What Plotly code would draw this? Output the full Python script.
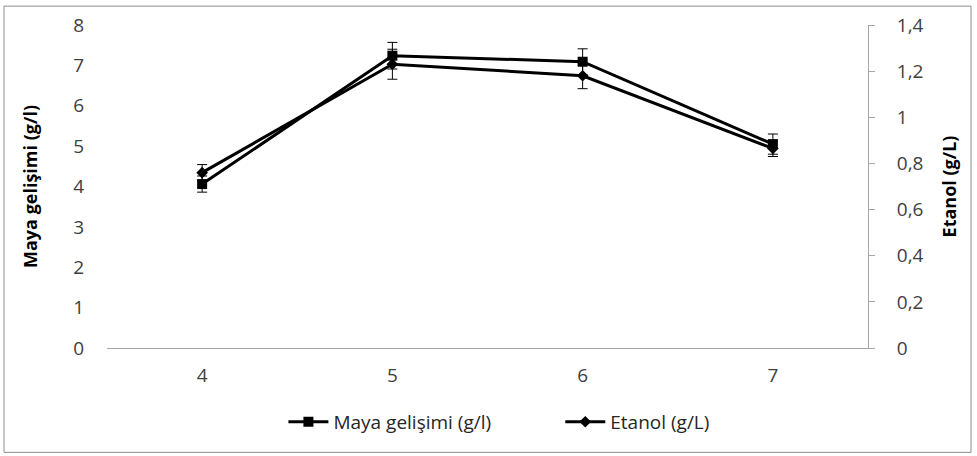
import plotly.graph_objects as go

# pH values on the category axis
ph = ["4", "5", "6", "7"]

# Yeast growth (g/l) with standard deviations
maya = [4.06, 7.24, 7.09, 5.05]
maya_err = [0.2, 0.33, 0.32, 0.25]

# Ethanol (g/L) with standard deviations
etanol = [0.76, 1.23, 1.18, 0.865]
etanol_err = [0.035, 0.065, 0.056, 0.035]

FONT = "Open Sans"
GREY = "#a6a6a6"

fig = go.Figure()

fig.add_trace(go.Scatter(
    x=ph, y=maya, name="Maya gelişimi (g/l)" + "\u00a0" * 13, mode="lines+markers",
    line=dict(color="black", width=3),
    marker=dict(symbol="square", size=10, color="black"),
    error_y=dict(type="data", array=maya_err, color="black", thickness=1, width=5),
    yaxis="y",
))

fig.add_trace(go.Scatter(
    x=ph, y=etanol, name="Etanol (g/L)", mode="lines+markers",
    line=dict(color="black", width=3),
    marker=dict(symbol="diamond", size=9, color="black"),
    error_y=dict(type="data", array=etanol_err, color="black", thickness=1, width=5),
    yaxis="y2",
))

fig.update_layout(
    width=977, height=456,
    margin=dict(l=107, r=109, t=23, b=108),
    paper_bgcolor="white", plot_bgcolor="white",
    separators=", ",
    font=dict(family=FONT, size=19, color="#404040"),
    showlegend=True,
    legend=dict(
        orientation="h", x=0.515, xanchor="center", y=-0.17, yanchor="top",
        font=dict(family=FONT, size=19, color="#262626"),
        itemwidth=40, tracegroupgap=0,
    ),
    xaxis=dict(
        type="category", range=[-0.5, 3.5],
        showline=True, linecolor=GREY, linewidth=1,
        ticks="", showgrid=False, zeroline=False,
        tickfont=dict(family=FONT, size=19, color="#404040"),
        ticklabelstandoff=10,
    ),
    yaxis=dict(
        range=[0, 8], dtick=1, showgrid=False, zeroline=False,
        showline=False, ticks="",
        tickfont=dict(family=FONT, size=19, color="#404040"),
        ticklabelstandoff=22,
        title=dict(text="<b>Maya gelişimi (g/l)</b>",
                   font=dict(family=FONT, size=18, color="black"), standoff=30),
    ),
    yaxis2=dict(
        range=[0, 1.4], dtick=0.2, overlaying="y", side="right",
        showgrid=False, zeroline=False,
        showline=True, linecolor=GREY, linewidth=1,
        ticks="outside", ticklen=6, tickcolor=GREY,
        tickfont=dict(family=FONT, size=19, color="#404040"),
        ticklabelstandoff=18,
        title=dict(text="<b>Etanol (g/L)</b>",
                   font=dict(family=FONT, size=18, color="black"), standoff=20),
    ),
)

# Chart frame around the whole figure
pw = 977 - 107 - 109
ph_px = 456 - 23 - 108
fig.add_shape(
    type="rect", xref="paper", yref="paper",
    x0=(4 - 107) / pw, x1=(971 - 107) / pw,
    y0=(348 - 453) / ph_px, y1=(348 - 4) / ph_px,
    line=dict(color="#8c8c8c", width=1), fillcolor="rgba(0,0,0,0)",
    layer="below",
)

fig.write_html("out.html")
